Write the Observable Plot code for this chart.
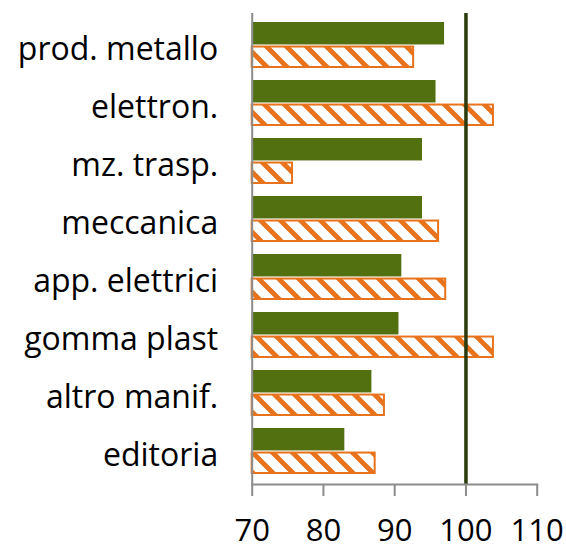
<!DOCTYPE html>
<html><head><meta charset="utf-8">
<script src="https://cdn.jsdelivr.net/npm/d3@7"></script>
<script src="https://cdn.jsdelivr.net/npm/@observablehq/plot@0.6"></script>
<style>body{margin:0;background:#fff}</style>
</head><body>
<svg width="0" height="0" style="position:absolute">
  <defs>
    <pattern id="hatch" patternUnits="userSpaceOnUse" width="20" height="20">
      <rect width="20" height="20" fill="#fff"/>
      <path d="M-5,-5 L25,25 M-5,15 L5,25 M15,-5 L25,5" stroke="#e8731c" stroke-width="4.8"/>
    </pattern>
  </defs>
</svg>
<div id="chart"></div>
<script>
const categories = ["prod. metallo", "elettron.", "mz. trasp.", "meccanica", "app. elettrici", "gomma plast", "altro manif.", "editoria"];
const seriesA = [97.0, 95.8, 93.9, 93.9, 91.0, 90.6, 86.8, 83.0];
const seriesB = [92.8, 104.0, 75.8, 96.3, 97.3, 104.0, 88.7, 87.4];
const xTicks = [70, 80, 90, 100, 110];
const xDomain = [70, 110];
const reference = [100];

const rowsA = categories.map((c, i) => ({cat: c, v: seriesA[i]}));
const rowsB = categories.map((c, i) => ({cat: c, v: seriesB[i]}));

const W = 566, H = 549, mT = 13, mB = 65;
const half = ((H - mT - mB) / categories.length) * 0.8 / 2;

const chart = Plot.plot({
  width: W,
  height: H,
  marginLeft: 251.7,
  marginRight: 29.3,
  marginTop: mT,
  marginBottom: mB,
  style: {fontFamily: "'Open Sans', sans-serif", background: "#fff", color: "#000"},
  x: {domain: xDomain},
  y: {domain: categories, paddingInner: 0.2, paddingOuter: 0.1},
  marks: [
    Plot.barX(rowsA, {x1: xDomain[0], x2: "v", y: "cat", fill: "#52700f", insetBottom: half}),
    Plot.barX(rowsB, {x1: xDomain[0], x2: "v", y: "cat", fill: "url(#hatch)", stroke: "#e8731c", strokeWidth: 2, insetTop: half + 1, insetBottom: 1, insetRight: 1}),
    Plot.ruleX(reference, {stroke: "#2b3a0b", strokeWidth: 3.5}),
    Plot.ruleX([xDomain[0]], {stroke: "#8c8c8c", strokeWidth: 2}),
    Plot.frame({anchor: "bottom", stroke: "#8c8c8c", strokeWidth: 2}),
    Plot.axisX({ticks: xTicks, tickSize: 12, tickPadding: 22, fontSize: 31, stroke: "#8c8c8c", strokeWidth: 2, fill: "#000", label: null}),
    Plot.axisY({tickSize: 0, tickPadding: 34, fontSize: 32, fill: "#000", dy: 4, label: null})
  ]
});
document.getElementById("chart").appendChild(chart);
</script>
</body></html>
